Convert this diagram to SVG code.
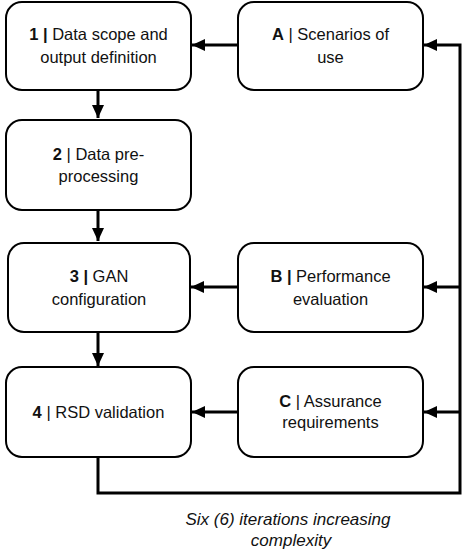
<svg xmlns="http://www.w3.org/2000/svg" width="474" height="553" viewBox="0 0 474 553">
  <defs>
    <marker id="arr" markerUnits="userSpaceOnUse" markerWidth="14" markerHeight="12" refX="13" refY="6" orient="auto">
      <path d="M0,0 L13,6 L0,12 Z" fill="#000"/>
    </marker>
    <style>
      .box { fill: #fff; stroke: #000; stroke-width: 2; }
      .t { font-family: "Liberation Sans", Arial, sans-serif; font-size: 16.5px; fill: #111; text-anchor: middle; }
      .b { font-weight: bold; }
      .conn { fill: none; stroke: #000; stroke-width: 3; }
      .cap { font-family: "Liberation Sans", Arial, sans-serif; font-size: 17px; font-style: italic; fill: #111; text-anchor: middle; }
    </style>
  </defs>
  <rect width="474" height="553" fill="#fff"/>

  <g id="connectors">
    <line class="conn" x1="98" y1="90" x2="98" y2="118" marker-end="url(#arr)"/>
    <line class="conn" x1="98" y1="210" x2="98" y2="241" marker-end="url(#arr)"/>
    <line class="conn" x1="98" y1="332" x2="98" y2="366" marker-end="url(#arr)"/>
    <line class="conn" x1="238" y1="45" x2="192" y2="45" marker-end="url(#arr)"/>
    <line class="conn" x1="238" y1="287" x2="191" y2="287" marker-end="url(#arr)"/>
    <line class="conn" x1="238" y1="412" x2="192" y2="412" marker-end="url(#arr)"/>
    <polyline class="conn" points="98,457 98,493 460,493 460,45 424,45" marker-end="url(#arr)"/>
    <line class="conn" x1="460" y1="287" x2="424" y2="287" marker-end="url(#arr)"/>
    <line class="conn" x1="460" y1="412" x2="424" y2="412" marker-end="url(#arr)"/>
  </g>

  <g id="node1">
    <rect class="box" x="6" y="2" width="185" height="88" rx="16"/>
    <text class="t" x="98.5" y="40"><tspan class="b">1 |</tspan> Data scope and</text>
    <text class="t" x="98.5" y="63">output definition</text>
  </g>
  <g id="node2">
    <rect class="box" x="6" y="120" width="185" height="90" rx="16"/>
    <text class="t" x="98.5" y="160"><tspan class="b">2</tspan> | Data pre-</text>
    <text class="t" x="98.5" y="182">processing</text>
  </g>
  <g id="node3">
    <rect class="box" x="8" y="243" width="182" height="89" rx="16"/>
    <text class="t" x="99" y="282"><tspan class="b">3 |</tspan> GAN</text>
    <text class="t" x="99" y="305">configuration</text>
  </g>
  <g id="node4">
    <rect class="box" x="6" y="367" width="185" height="90" rx="16"/>
    <text class="t" x="98.5" y="418"><tspan class="b">4</tspan> | RSD validation</text>
  </g>
  <g id="nodeA">
    <rect class="box" x="238" y="2" width="185" height="88" rx="16"/>
    <text class="t" x="330.5" y="40"><tspan class="b">A</tspan> | Scenarios of</text>
    <text class="t" x="330.5" y="63">use</text>
  </g>
  <g id="nodeB">
    <rect class="box" x="238" y="243" width="185" height="89" rx="16"/>
    <text class="t" x="330.5" y="282"><tspan class="b">B |</tspan> Performance</text>
    <text class="t" x="330.5" y="305">evaluation</text>
  </g>
  <g id="nodeC">
    <rect class="box" x="238" y="367" width="185" height="90" rx="16"/>
    <text class="t" x="330.5" y="407"><tspan class="b">C</tspan> | Assurance</text>
    <text class="t" x="330.5" y="428">requirements</text>
  </g>

  <g id="caption">
    <text class="cap" x="288" y="525">Six (6) iterations increasing</text>
    <text class="cap" x="291" y="546">complexity</text>
  </g>
</svg>
